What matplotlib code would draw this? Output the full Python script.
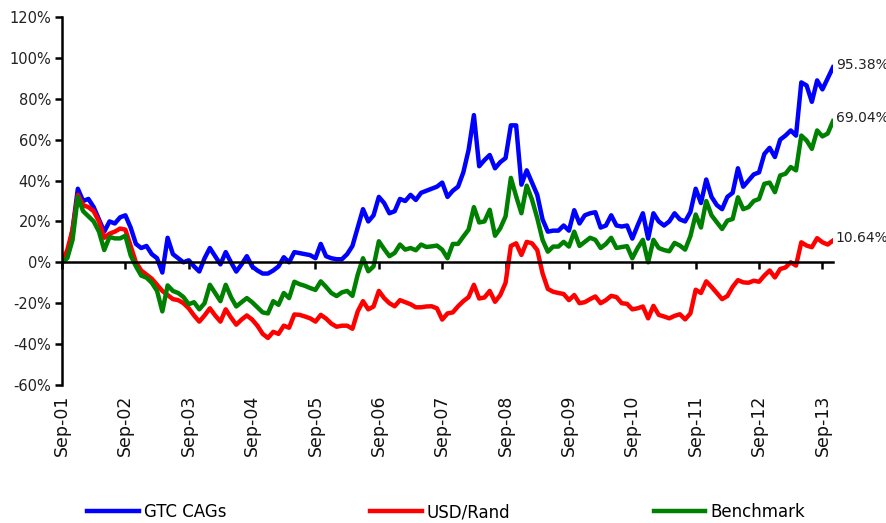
# libraries
import matplotlib
matplotlib.use('Agg')
import matplotlib.pyplot as plt
import numpy as np

# cumulative returns in %, monthly from Sep-01 to Nov-13
gtc_cags = [
    0, 3, 16, 36, 30, 31, 27, 21, 15, 20, 19, 22,
    23, 17, 9, 7, 8, 4, 2, -5, 12, 4, 2, 0,
    1, -2, -4.5, 2, 7, 3, -1, 5, 0, -4.5, -1, 3,
    -2, -4, -5.5, -5.5, -4, -2, 2.5, 0, 5, 4.5, 4, 3.5,
    2, 9, 3, 2, 1.5, 1.5, 4, 8, 17, 26, 20, 23,
    32, 29, 24, 25, 31, 30, 33, 30.5, 34, 35, 36, 37,
    39, 32, 35, 37, 44, 55, 72, 47, 50, 52.5, 46, 49,
    51, 67, 67, 38, 45, 39, 33, 21, 15, 15.5, 15.5, 18,
    15.5, 25.5, 19, 23, 24, 24.5, 17, 18, 23, 18, 17.5, 18,
    11.6, 18, 24, 11.6, 24, 20, 18, 20, 24, 21, 20, 24.6,
    36, 29, 40.5, 32, 28, 26, 32, 34, 46, 37, 40, 43,
    44, 53, 56, 51.5, 60, 62, 64.5, 62, 88, 86.5, 78.5, 89,
    84.6, 90, 95.38,
]

usd_rand = [
    0, 6, 16, 33, 28, 27, 25, 20, 12, 14, 15, 16.5,
    16, 8, 0, -4, -6, -8, -11, -14, -16, -18, -18.5, -20,
    -22.5, -26, -29, -26, -22.5, -26, -29, -23, -27, -30.5, -28, -26,
    -28, -31, -35, -37, -34, -35, -31, -32, -25.5, -25.7, -26.5, -27.4,
    -29, -25.7, -27.5, -30, -31.5, -31, -31, -32.5, -24, -19, -23, -21.6,
    -14, -17.5, -20, -21.5, -18.5, -19.5, -20.5, -22, -22, -21.6, -21.5, -22.5,
    -28, -25, -24.5, -21.5, -19, -17, -11, -17.7, -17.2, -14, -19.3, -16,
    -10, 8, 9.3, 3.6, 10, 9.3, 6, -5.4, -13, -14.4, -15, -15.5,
    -18.5, -16, -20, -19.5, -18, -16.7, -20, -18.5, -16.4, -17, -20, -20.3,
    -23, -22.5, -21.6, -27.4, -21.3, -25.7, -26.5, -27.4, -26.2, -25.4, -27.9, -25,
    -13.4, -15, -9.3, -12, -15, -18, -16.5, -12, -8.7, -9.8, -10, -9,
    -9.5, -6.5, -4, -7.4, -3.3, -2.5, 0, -1.6, 9.8, 8.2, 7.4, 11.8,
    9.8, 8.7, 10.64,
]

benchmark = [
    0, 2, 11, 32, 25, 22.5, 20, 15, 6, 12.4, 11.7, 11.7,
    13, 3.4, -2, -6.5, -7.5, -10, -14, -24, -11.3, -14, -15, -17,
    -20.5, -19.5, -23, -20, -11, -15, -19, -11, -17, -21.6, -19.5, -17.5,
    -19.5, -22, -24.5, -25, -19, -20.8, -15, -17.5, -9.5, -10.7, -11.5, -12.6,
    -13.5, -9.3, -12, -15, -16.5, -14.7, -14, -16.4, -6, 2, -4.4, -2,
    10.3, 6.5, 3, 4.6, 8.7, 6.2, 7, 5.9, 8.7, 7.5, 7.8, 8.2,
    6.2, 2, 9, 9, 12.6, 16, 27, 19.5, 20, 25.7, 13, 16.7,
    22.5, 41.3, 32.3, 24, 37.5, 30.7, 21.6, 11, 5.2, 7.7, 7.7, 10,
    7.7, 15, 8, 10, 12, 11, 7, 9, 12, 7, 7.5, 7.9,
    2, 7, 11, 0, 11, 7, 6, 5.4, 9.5, 8.2, 6.2, 12.8,
    23.4, 17, 30, 23, 19.6, 16.3, 20.4, 21.2, 31.8, 26, 27, 30,
    31, 38.4, 39, 34.3, 42.5, 43.3, 46.6, 45, 62, 59.6, 55.5, 64.5,
    61.6, 63, 69.04,
]

tick_labels = ['Sep-01', 'Sep-02', 'Sep-03', 'Sep-04', 'Sep-05', 'Sep-06', 'Sep-07',
               'Sep-08', 'Sep-09', 'Sep-10', 'Sep-11', 'Sep-12', 'Sep-13']
end_labels = ['95.38%', '10.64%', '69.04%']

series = [('GTC CAGs', gtc_cags, '#0000ff'),
          ('USD/Rand', usd_rand, '#ff0000'),
          ('Benchmark', benchmark, '#008000')]

months = np.arange(len(gtc_cags))

fig = plt.figure(figsize=(8.87, 5.23), dpi=100)
ax = fig.add_axes([0.0699, 0.2639, 0.8692, 0.7036])

lines = []
for (name, vals, col), lab in zip(series, end_labels):
    ln, = ax.plot(months, vals, color=col, lw=3.2, label=name, solid_joinstyle='round')
    lines.append(ln)
    ax.annotate(lab, (months[-1], vals[-1]), xytext=(2, 2), textcoords='offset points',
                ha='left', va='center', fontsize=10, color='#222222', annotation_clip=False)

# axes limits and ticks
ax.set_xlim(0, months[-1])
ax.set_ylim(-60, 120)
ax.set_yticks(np.arange(-60, 121, 20))
ax.set_yticklabels(['{:.0f}%'.format(v) for v in np.arange(-60, 121, 20)])
ax.tick_params(axis='y', direction='out', length=5, width=1.8, pad=3, labelsize=10.5,
               labelcolor='#222222')

# category axis sits on the 0% line
ax.spines['bottom'].set_position(('data', 0))
ax.spines['bottom'].set_linewidth(1.8)
ax.spines['left'].set_linewidth(1.8)
ax.spines['top'].set_visible(False)
ax.spines['right'].set_visible(False)
ax.set_xticks(months[::12])
ax.tick_params(axis='x', direction='out', length=5, width=1.8, labelbottom=False)

# tick labels at the bottom of the plot
sec = ax.secondary_xaxis(0.0)
sec.set_xticks(months[::12])
sec.set_xticklabels(tick_labels, rotation=90, fontsize=12.5, color='#111111')
sec.tick_params(length=0, pad=7)
sec.spines['bottom'].set_visible(False)

fig.legend(handles=lines, loc='lower center', bbox_to_anchor=(0.503, -0.025), ncol=3,
           frameon=False, handlelength=3.1, columnspacing=8.6, handletextpad=0.3,
           fontsize=12)

fig.savefig('out.png', dpi=100)
